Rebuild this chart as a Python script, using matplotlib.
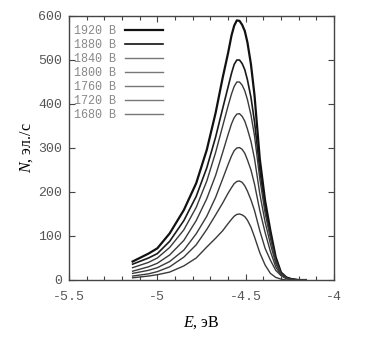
import numpy as np
import matplotlib
matplotlib.use("Agg")
from matplotlib import pyplot as plt

plt.rcParams['mathtext.fontset'] = 'custom'
plt.rcParams['mathtext.it'] = 'Liberation Serif:italic'
plt.rcParams['mathtext.rm'] = 'Liberation Serif'

# energy grid, eV
E = [-5.14, -5.05, -5.0, -4.93, -4.85, -4.78, -4.72, -4.67, -4.63, -4.60, -4.58, -4.565, -4.55, -4.535,
     -4.52, -4.505, -4.49, -4.47, -4.45, -4.42, -4.39, -4.36, -4.33, -4.30, -4.27, -4.24, -4.20, -4.16]

# counts N (el./s) for each voltage
N1920 = [42, 60, 72, 106, 159, 220, 296, 380, 460, 515, 556, 578, 590, 589,
         580, 566, 540, 490, 420, 275, 180, 112, 52, 17, 6, 2, 0, 0]
N1880 = [36, 50, 60, 88, 135, 190, 255, 325, 390, 438, 470, 490, 500, 500,
         492, 478, 455, 415, 360, 250, 165, 104, 48, 16, 5, 2, 0, 0]
N1840 = [28, 40, 50, 74, 114, 165, 225, 290, 350, 395, 423, 440, 450, 450,
         443, 430, 410, 375, 328, 230, 152, 95, 44, 15, 5, 1, 0, 0]
N1800 = [20, 30, 38, 57, 90, 135, 185, 238, 290, 330, 355, 369, 377, 378,
         372, 361, 343, 315, 276, 196, 132, 82, 38, 13, 4, 1, 0, 0]
N1760 = [15, 22, 28, 42, 68, 105, 145, 188, 230, 262, 282, 294, 300, 301,
         297, 288, 273, 250, 218, 158, 108, 65, 30, 11, 4, 1, 0, 0]
N1720 = [9, 14, 19, 30, 52, 80, 115, 148, 175, 197, 210, 219, 224, 225,
         222, 214, 202, 182, 158, 112, 72, 45, 22, 10, 3, 1, 0, 0]
N1680 = [5, 9, 12, 18, 32, 50, 75, 95, 112, 128, 138, 145, 149, 150,
         148, 144, 136, 120, 98, 62, 34, 15, 6, 2, 0, 0, 0, 0]

labels = ["1920 В", "1880 В", "1840 В", "1800 В", "1760 В", "1720 В", "1680 В"]
series = [N1920, N1880, N1840, N1800, N1760, N1720, N1680]
colors = ["#111111", "#1a1a1a", "#3a3a3a", "#3a3a3a", "#3a3a3a", "#3a3a3a", "#3a3a3a"]
widths = [1.6, 1.2, 1.0, 1.0, 1.0, 1.0, 1.0]

fig = plt.figure(figsize=(3.89, 3.41), dpi=100)
ax = fig.add_axes([69/389, 1 - 280/341, (334 - 69)/389, (280 - 16)/341])

for lab, n, c, w in zip(labels, series, colors, widths):
    ax.plot(E, n, color=c, lw=w, label=lab)

ax.set_xlim(-5.5, -4)
ax.set_ylim(0, 600)
ax.set_xticks([-5.5, -5, -4.5, -4])
ax.set_xticklabels(["-5.5", "-5", "-4.5", "-4"])
ax.set_xticks(np.arange(-5.5, -3.99, 0.1), minor=True)
ax.set_yticks(range(0, 601, 100))
ax.tick_params(which='both', direction='in', top=True, right=True, color='#444444')
ax.tick_params(which='major', length=4, width=0.8)
ax.tick_params(which='minor', length=3, width=0.8)
ax.tick_params(axis='both', labelsize=9.5, labelcolor='#555555')
ax.tick_params(axis='x', pad=8)
ax.tick_params(axis='y', pad=5)
for lbl in ax.get_xticklabels() + ax.get_yticklabels():
    lbl.set_family('Liberation Mono')
for sp in ax.spines.values():
    sp.set_color('#444444')
    sp.set_linewidth(1.0)

ax.set_xlabel(r"$E$, эВ", fontsize=11.5, family='Liberation Serif', labelpad=8)
ax.set_ylabel(r"$N$, эл./с", fontsize=11.5, family='Liberation Serif', labelpad=2)

leg = ax.legend(loc='upper left', frameon=False, markerfirst=False,
                prop={'family': 'Liberation Mono', 'size': 8.5}, labelcolor='#888888',
                handlelength=3.2, labelspacing=0.17, handletextpad=0.8,
                borderaxespad=0.0, bbox_to_anchor=(0.0, 0.985))
for h, c in zip(leg.get_lines(), ["#111111", "#111111", "#777777", "#777777", "#777777", "#777777", "#777777"]):
    h.set_color(c)

fig.savefig("out.png", dpi=100)
